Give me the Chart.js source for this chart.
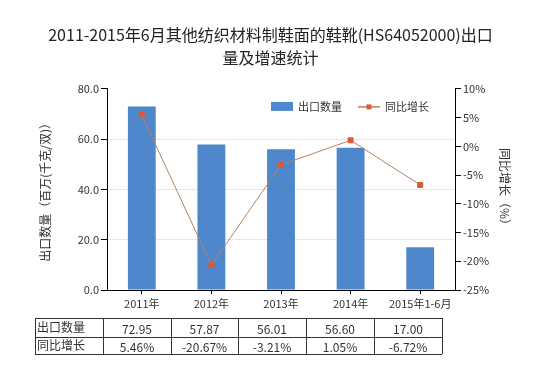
<!DOCTYPE html>
<html>
<head>
<meta charset="utf-8">
<script src="https://cdn.jsdelivr.net/npm/chart.js@4/dist/chart.umd.min.js"></script>
<style>
  html, body { margin: 0; padding: 0; background: #ffffff; }
  #wrap { position: relative; width: 541px; height: 372px; }
</style>
</head>
<body>
<div id="wrap"><canvas id="c"></canvas></div>
<script>
// ---- data ----
const categories = ['2011年', '2012年', '2013年', '2014年', '2015年1-6月'];
const exportQty = [72.95, 57.87, 56.01, 56.60, 17.0];
const growthPct = [5.46, -20.67, -3.21, 1.05, -6.72];
const seriesNames = ['出口数量', '同比增长'];
const titleLines = ['2011-2015年6月其他纺织材料制鞋面的鞋靴(HS64052000)出口', '量及增速统计'];
const leftAxisTitle = '出口数量（百万(千克/双)）';
const rightAxisTitle = '同比增长（%）';

const FONT = '"Noto Sans CJK SC", "Noto Sans", sans-serif';
const barColor = '#4f87cc';
const lineColor = '#b9805e';
const markerColor = '#dc5a2e';

// legend drawn inside the plot area, from dataset labels
const legendPlugin = {
  id: 'innerLegend',
  afterDraw(chart) {
    const ctx = chart.ctx;
    const ds = chart.data.datasets;
    const yc = chart.chartArea.top + 17.5;
    let x = chart.chartArea.left + 164;
    ctx.save();
    ctx.font = '11px ' + FONT;
    ctx.textBaseline = 'middle';
    ctx.textAlign = 'left';
    ds.forEach((d, i) => {
      if (d.type === 'bar') {
        ctx.fillStyle = d.backgroundColor;
        ctx.fillRect(x, yc - 4.5, 22, 9);
      } else {
        ctx.strokeStyle = d.borderColor; ctx.lineWidth = 1.5;
        ctx.beginPath(); ctx.moveTo(x, yc + 0.5); ctx.lineTo(x + 22, yc + 0.5); ctx.stroke();
        ctx.fillStyle = d.pointBackgroundColor;
        ctx.fillRect(x + 8.5, yc - 2, 5, 5);
      }
      x += 27;
      ctx.fillStyle = '#333';
      ctx.fillText(d.label, x, yc);
      x += ctx.measureText(d.label).width + 16;
    });
    ctx.restore();
  }
};

// table plugin (drawn from the data arrays)
const tablePlugin = {
  id: 'dataTable',
  afterDraw(chart) {
    const ctx = chart.ctx;
    const xs = [35, 103, 171, 238, 306, 374, 442];
    const ys = [318, 337, 354];
    ctx.save();
    ctx.strokeStyle = '#333'; ctx.lineWidth = 1;
    ctx.beginPath();
    ys.forEach(y => { ctx.moveTo(xs[0], y + 0.5); ctx.lineTo(xs[xs.length - 1], y + 0.5); });
    xs.forEach(x => { ctx.moveTo(x + 0.5, ys[0]); ctx.lineTo(x + 0.5, ys[ys.length - 1]); });
    ctx.stroke();
    ctx.fillStyle = '#333';
    ctx.font = '12px ' + FONT;
    ctx.textBaseline = 'middle';
    const rows = [
      [seriesNames[0], exportQty.map(v => v.toFixed(2))],
      [seriesNames[1], growthPct.map(v => v.toFixed(2) + '%')]
    ];
    rows.forEach((r, i) => {
      const yc = (ys[i] + ys[i + 1]) / 2 + 1;
      ctx.textAlign = 'left';
      ctx.fillText(r[0], xs[0] + 2, yc - 1);
      ctx.textAlign = 'center';
      r[1].forEach((t, j) => ctx.fillText(t, (xs[j + 1] + xs[j + 2]) / 2, yc + 1));
    });
    ctx.restore();
  }
};

new Chart(document.getElementById('c'), {
  data: {
    labels: categories,
    datasets: [
      {
        type: 'bar', label: seriesNames[0], data: exportQty, yAxisID: 'y',
        backgroundColor: barColor, borderWidth: 0,
        categoryPercentage: 1.0, barPercentage: 0.4, order: 2
      },
      {
        type: 'line', label: seriesNames[1], data: growthPct, yAxisID: 'y1',
        borderColor: lineColor, borderWidth: 1, backgroundColor: markerColor,
        pointStyle: 'rect', pointRadius: 3.5, pointBackgroundColor: markerColor,
        pointBorderColor: markerColor, tension: 0, order: 1
      }
    ]
  },
  options: {
    responsive: true, maintainAspectRatio: false, animation: false,
    layout: { padding: { left: 0, right: 0, top: 0, bottom: 62 } },
    plugins: {
      tooltip: { enabled: false },
      legend: { display: false },
      title: {
        display: true, text: titleLines, color: '#222',
        font: { family: FONT, size: 16, weight: 'normal', lineHeight: 1.45 },
        padding: { top: 23, bottom: 19.5 }
      }
    },
    scales: {
      x: {
        type: 'category', offset: true,
        grid: { display: true, drawOnChartArea: false, offset: false, tickLength: 4, tickColor: '#000' },
        border: { display: true, color: '#000', width: 1 },
        ticks: { color: '#333', font: { family: FONT, size: 11 }, autoSkip: false, maxRotation: 0, padding: 3 },
        afterFit(s) { s.height = 20; }
      },
      y: {
        position: 'left', min: 0, max: 80,
        ticks: { stepSize: 20, color: '#333', font: { family: FONT, size: 11 }, padding: 2,
                 callback: v => Number(v).toFixed(1) },
        grid: { color: c => (c.tick && (c.tick.value === 0 || c.tick.value === 80)) ? 'rgba(0,0,0,0)' : '#e6e6e6',
                tickColor: '#000', tickLength: 6 },
        border: { display: true, color: '#000', width: 1 },
        title: { display: true, text: leftAxisTitle, color: '#333', font: { family: FONT, size: 12 },
                 padding: { top: 38, bottom: 0 } },
        afterFit(s) { s.width = 107; }
      },
      y1: {
        position: 'right', min: -25, max: 10,
        ticks: { stepSize: 5, color: '#333', font: { family: FONT, size: 11 }, padding: 2,
                 callback: v => v + '%' },
        grid: { drawOnChartArea: false, tickColor: '#000', tickLength: 6 },
        border: { display: true, color: '#000', width: 1 },
        title: { display: true, text: rightAxisTitle, color: '#333', font: { family: FONT, size: 12 },
                 padding: { top: 29, bottom: 0 } },
        afterFit(s) { s.width = 86; }
      }
    }
  },
  plugins: [legendPlugin, tablePlugin]
});
</script>
</body>
</html>
